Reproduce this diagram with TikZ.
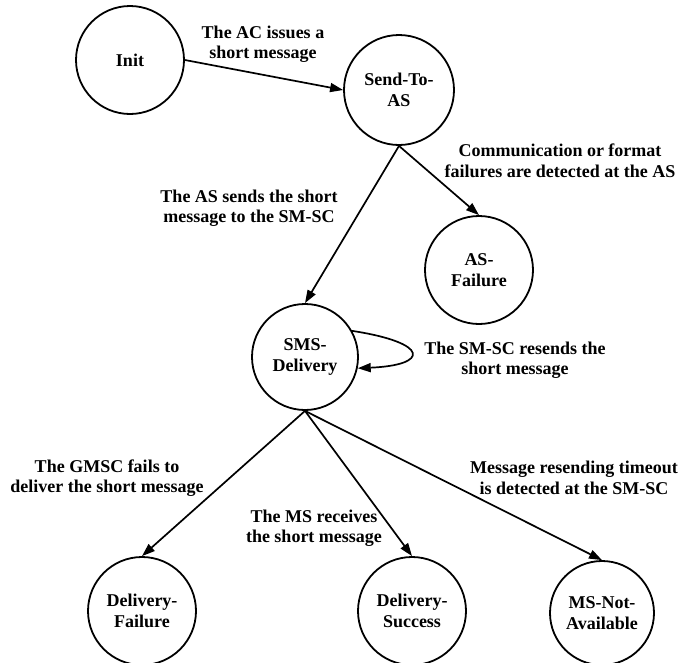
\documentclass[tikz,border=0pt]{standalone}
\usepackage{fontspec}
\setmainfont{Liberation Serif}
\usetikzlibrary{arrows.meta}
\begin{document}
\begin{tikzpicture}[x=1pt,y=-1pt,
  every node/.style={font=\fontsize{18}{20.5}\selectfont\bfseries, align=center},
  state/.style={draw, circle, line width=1.8pt, inner sep=0pt, minimum size=#1},
  state/.default=108pt,
  lbl/.style={inner sep=1pt},
  arr/.style={line width=1.7pt, -{Triangle[length=13pt,width=9pt]}}]
\useasboundingbox (0,0) rectangle (683,662);
\clip (0,0) rectangle (683,662);
% states
\node[state] (init) at (130,60) {Init};
\node[state=110pt] (send) at (399,90) {Send-To-\\AS};
\node[state] (asf) at (479,270) {AS-\\Failure};
\node[state=106pt] (sms) at (305,357) {SMS-\\Delivery};
\node[state] (df) at (142,611) {Delivery-\\Failure};
\node[state] (ds) at (412,611) {Delivery-\\Success};
\node[state=104pt] (mna) at (602,613) {MS-Not-\\Available};
% labels
\node[lbl] (l1) at (263,44) {The AC issues a\\short message};
\node[lbl] (l2) at (249,208) {The AS sends the short\\message to the SM-SC};
\node[lbl] (l3) at (560,161) {Communication or format\\failures are detected at the AS};
\node[lbl] (l4) at (515,360) {The SM-SC resends the\\short message};
\node[lbl] (l5) at (107,478) {The GMSC fails to\\deliver the short message};
\node[lbl] (l6) at (314,528) {The MS receives\\the short message};
\node[lbl] (l7) at (574,478) {Message resending timeout\\is detected at the SM-SC};
% transitions
\draw[arr] (init.east) -- (send.west);
\draw[arr] (send.south) -- (sms.north);
\draw[arr] (send.south) -- (asf.north);
\draw[arr] (sms.29) .. controls +(78,12) and +(72,-3) .. (sms.-12);
\draw[arr] (sms.south) -- (df.north);
\draw[arr] (sms.south) -- (ds.north);
\draw[arr] (sms.south) -- (mna.north);
\end{tikzpicture}
\end{document}
